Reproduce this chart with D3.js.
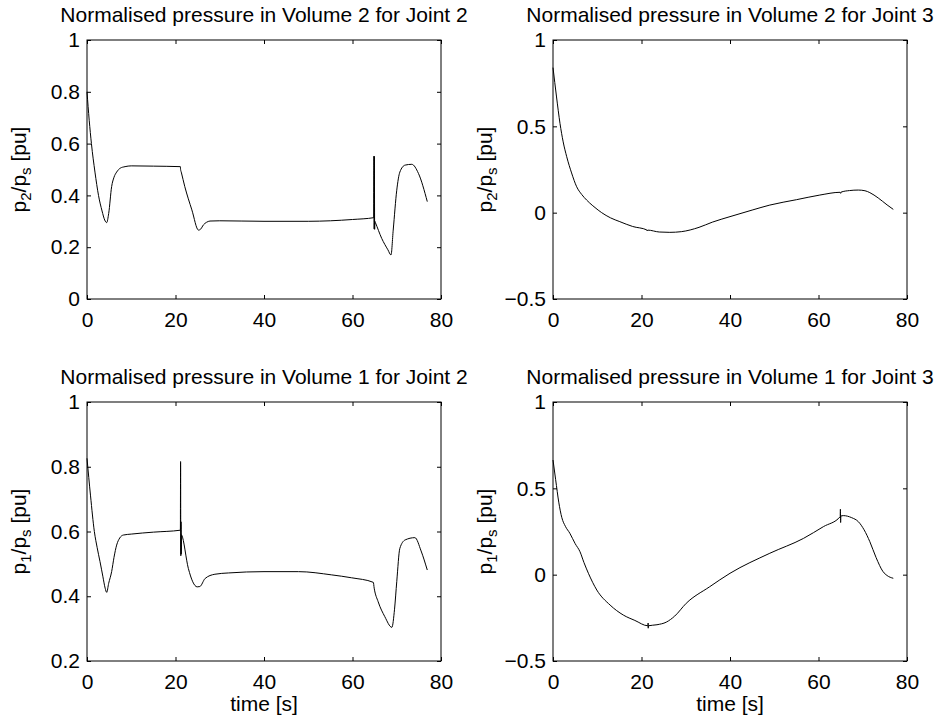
<!DOCTYPE html>
<html>
<head>
<meta charset="utf-8">
<script src="https://cdn.jsdelivr.net/npm/d3@7"></script>
<style>
  body { margin: 0; background: #fff; }
  text { font-family: "Liberation Sans", Arial, Helvetica, sans-serif; fill: #000; }
</style>
</head>
<body>
<div id="chart-area"></div>
<script>
// --- data (time in s, pressure in pu) ---
const v2j2Time = [0, 0.5, 1.0, 1.8, 2.6, 3.4, 4.0, 4.45, 4.9, 5.57, 6.1, 6.7, 7.5, 8.6, 10, 15, 21.1,
  21.15, 21.3, 22.1, 23.7, 25.2, 25.7, 26.3, 27.0, 27.8, 30, 40, 50, 55, 60, 64.8,
  64.85, 64.9, 64.95, 65.0, 65.05, 65.15, 66.6, 68.0, 68.7, 69.2, 70.0, 70.7, 71.9, 73.4, 74.9, 76.9];
const v2j2Press = [0.80, 0.69, 0.60, 0.49, 0.40, 0.34, 0.305, 0.295, 0.33, 0.434, 0.47, 0.49, 0.505, 0.511, 0.514, 0.513, 0.511,
  0.50, 0.49, 0.434, 0.344, 0.266, 0.27, 0.286, 0.296, 0.301, 0.302, 0.300, 0.300, 0.302, 0.307, 0.314,
  0.552, 0.27, 0.55, 0.269, 0.30, 0.296, 0.234, 0.19, 0.17, 0.266, 0.42, 0.49, 0.517, 0.52, 0.485, 0.376];

const v2j3Time = [0, 0.8, 1.58, 2.3, 3.1, 4.2, 5.35, 6.5, 7.6, 9, 10.2, 11, 13, 15.1, 18, 21.2, 21.3, 21.4,
  24, 26.4, 29, 33, 36, 40, 45, 49, 55, 60.3, 64.9, 65.0, 65.1, 67, 69, 70.5, 71.6, 73.5, 75.5, 76.9];
const v2j3Press = [0.84, 0.67, 0.517, 0.41, 0.324, 0.23, 0.15, 0.105, 0.073, 0.04, 0.015, 0.0, -0.03, -0.052, -0.08, -0.1, -0.106, -0.101,
  -0.112, -0.114, -0.11, -0.085, -0.055, -0.023, 0.015, 0.044, 0.075, 0.102, 0.118, 0.112, 0.119, 0.128, 0.131, 0.127, 0.116, 0.085, 0.045, 0.019];

const v1j2Time = [0, 0.8, 1.66, 2.3, 2.94, 3.6, 4.1, 4.45, 4.9, 5.57, 6.1, 6.7, 7.4, 8.2, 10, 15, 21.1,
  21.15, 21.2, 21.25, 21.3, 21.35, 21.4, 22.9, 24.9, 25.5, 26.7, 28.9, 32, 40, 47.8, 55.3, 59.8, 64.7,
  64.9, 65.8, 67.3, 68.9, 69.5, 70.0, 70.7, 71.9, 74.1, 75.5, 76.9];
const v1j2Press = [0.826, 0.71, 0.60, 0.55, 0.507, 0.46, 0.425, 0.412, 0.44, 0.476, 0.52, 0.558, 0.58, 0.589, 0.592, 0.598, 0.604,
  0.816, 0.525, 0.63, 0.53, 0.59, 0.589, 0.486, 0.429, 0.43, 0.455, 0.468, 0.472, 0.476, 0.476, 0.466, 0.457, 0.443,
  0.425, 0.383, 0.337, 0.304, 0.36, 0.445, 0.548, 0.574, 0.581, 0.54, 0.481];

const v1j3Time = [0, 0.6, 1.3, 2.0, 2.8, 3.8, 5.0, 6.1, 7.0, 8, 9.9, 12.9, 15.9, 18.5, 21.45, 21.5, 21.52, 21.55,
  23.5, 25.6, 27.5, 30.1, 35.4, 40, 49, 56.6, 61.1, 64.9, 64.95, 65.0, 65.05, 65.6, 67.5, 69, 70.3, 71.6, 73, 74.6, 75.5, 76.9];
const v1j3Press = [0.664, 0.55, 0.42, 0.33, 0.28, 0.24, 0.18, 0.133, 0.07, 0.008, -0.089, -0.176, -0.234, -0.265, -0.296, -0.28, -0.31, -0.296,
  -0.29, -0.275, -0.24, -0.166, -0.07, 0.008, 0.124, 0.21, 0.278, 0.336, 0.379, 0.302, 0.34, 0.342, 0.33, 0.307, 0.26, 0.191, 0.1, 0.017, -0.005, -0.021];

const timeTicks = [0, 20, 40, 60, 80];
const ticksJ2Top = [0, 0.2, 0.4, 0.6, 0.8, 1];
const ticksJ2Bottom = [0.2, 0.4, 0.6, 0.8, 1];
const ticksJ3 = [-0.5, 0, 0.5, 1];

const createSVG = (selectorID, width, height) => d3.select(selectorID)
  .append('svg')
  .attr('width', width)
  .attr('height', height)
  .style('background', '#fff');

const svg = createSVG('#chart-area', 941, 718);

const panelW = 354, panelH = 259;
const fontSize = 21;
const fmt = d => d3.format('')(d).replace('-', '\u2212');

const drawPanel = (left, top, title, vol, tt, pp, yDomain, yTicks, showTime) => {
  const g = svg.append('g').attr('transform', `translate(${left}, ${top})`);
  const x = d3.scaleLinear().domain([0, 80]).range([0, panelW]);
  const y = d3.scaleLinear().domain(yDomain).range([panelH, 0]);

  // ticks pointing inwards on all four sides
  const addAxis = (axis, tr, labels) => {
    const a = g.append('g')
      .attr('transform', tr)
      .call(axis)
      .attr('font-size', fontSize)
      .attr('font-family', '"Liberation Sans", Arial, sans-serif');
    a.select('.domain').remove();
    a.selectAll('line').attr('stroke', '#000');
    if (!labels) a.selectAll('text').remove();
    return a;
  };
  addAxis(d3.axisBottom(x).tickValues(timeTicks).tickSizeInner(-4).tickSizeOuter(0).tickPadding(13).tickFormat(fmt),
    `translate(0, ${panelH})`, true);
  addAxis(d3.axisTop(x).tickValues(timeTicks).tickSizeInner(-4).tickSizeOuter(0), 'translate(0, 0)', false);
  addAxis(d3.axisLeft(y).tickValues(yTicks).tickSizeInner(-4).tickSizeOuter(0).tickPadding(7).tickFormat(fmt),
    'translate(0, 0)', true);
  addAxis(d3.axisRight(y).tickValues(yTicks).tickSizeInner(-4).tickSizeOuter(0), `translate(${panelW}, 0)`, false);

  // box
  g.append('rect')
    .attr('width', panelW)
    .attr('height', panelH)
    .attr('fill', 'none')
    .attr('stroke', '#000')
    .attr('stroke-width', 1);

  // curve
  const line = d3.line()
    .curve(d3.curveMonotoneX)
    .x((d, i) => x(tt[i]))
    .y(d => y(d));
  g.append('path')
    .datum(pp)
    .attr('d', line)
    .attr('fill', 'none')
    .attr('stroke', '#000')
    .attr('stroke-width', 1);

  // title
  g.append('text')
    .attr('x', panelW / 2)
    .attr('y', -18)
    .attr('text-anchor', 'middle')
    .attr('font-size', fontSize)
    .text(title);

  // y label with subscripts
  const yl = g.append('text')
    .attr('transform', `translate(-61, ${panelH / 2}) rotate(-90)`)
    .attr('text-anchor', 'middle')
    .attr('font-size', fontSize);
  yl.append('tspan').text('p');
  yl.append('tspan').attr('font-size', 15).attr('dy', 5).text(vol);
  yl.append('tspan').attr('dy', -5).text('/p');
  yl.append('tspan').attr('font-size', 15).attr('dy', 5).text('s');
  yl.append('tspan').attr('dy', -5).text(' [pu]');

  if (showTime) {
    g.append('text')
      .attr('x', panelW / 2)
      .attr('y', panelH + 50)
      .attr('text-anchor', 'middle')
      .attr('font-size', fontSize)
      .text('time [s]');
  }
};

drawPanel(87, 40, 'Normalised pressure in Volume 2 for Joint 2', '2', v2j2Time, v2j2Press, [0, 1], ticksJ2Top, false);
drawPanel(553, 40, 'Normalised pressure in Volume 2 for Joint 3', '2', v2j3Time, v2j3Press, [-0.5, 1], ticksJ3, false);
drawPanel(87, 402, 'Normalised pressure in Volume 1 for Joint 2', '1', v1j2Time, v1j2Press, [0.2, 1], ticksJ2Bottom, true);
drawPanel(553, 402, 'Normalised pressure in Volume 1 for Joint 3', '1', v1j3Time, v1j3Press, [-0.5, 1], ticksJ3, true);
</script>
</body>
</html>
